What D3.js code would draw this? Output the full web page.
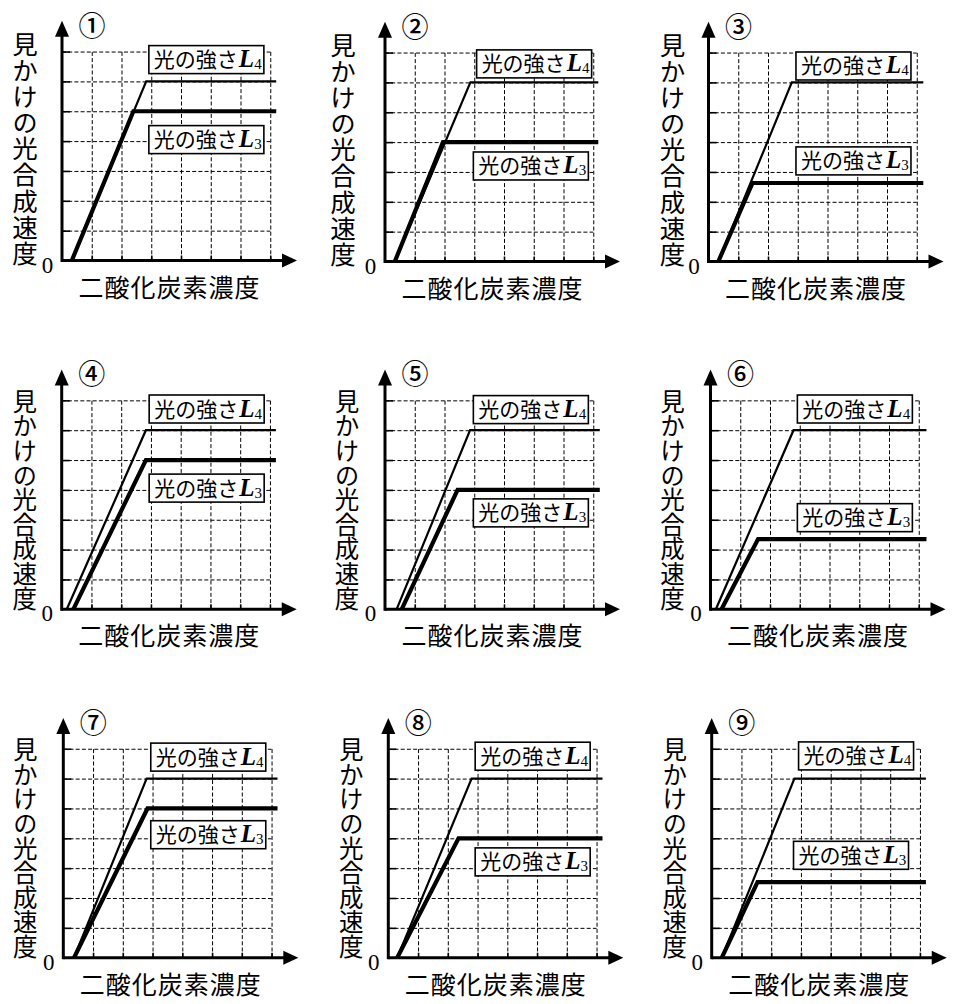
<!DOCTYPE html>
<html>
<head>
<meta charset="utf-8">
<script src="https://cdn.jsdelivr.net/npm/d3@7"></script>
<style>
html,body{margin:0;padding:0;background:#fff;}
svg{display:block;}
</style>
</head>
<body>
<svg id="chart" width="958" height="1004"></svg>
<script>
// ---------- data ----------
const panelIds = ["①","②","③","④","⑤","⑥","⑦","⑧","⑨"];
const yAxisTitle = "見かけの光合成速度";
const xAxisTitle = "二酸化炭素濃度";
const zeroLabel = "0";
const labelText = "光の強さ";
const labelL4Sub = "4";
const labelL3Sub = "3";
const gridTicks = [1,2,3,4,5,6,7];

// series: [co2, rate] points (grid units)
const seriesL4 = [
  [[0.33,0],[2.83,6],[7.2,6]],
  [[0.33,0],[2.87,6],[7.17,6]],
  [[0.33,0],[2.80,6],[7.22,6]],
  [[0.17,0],[2.83,6],[7.2,6]],
  [[0.39,0],[2.86,6],[7.22,6]],
  [[0.18,0],[2.79,6],[7.26,6]],
  [[0.36,0],[2.80,6],[7.2,6]],
  [[0.30,0],[2.80,6],[7.2,6]],
  [[0.34,0],[2.78,6],[7.2,6]]
];
const seriesL3 = [
  [[0.33,0],[2.40,5],[7.2,5]],
  [[0.33,0],[1.95,4],[7.17,4]],
  [[0.33,0],[1.48,2.63],[7.22,2.63]],
  [[0.39,0],[2.83,5],[7.2,5]],
  [[0.56,0],[2.44,4],[7.22,4]],
  [[0.37,0],[1.60,2.35],[7.26,2.35]],
  [[0.36,0],[2.83,5],[7.2,5]],
  [[0.30,0],[2.36,4],[7.2,4]],
  [[0.34,0],[1.54,2.53],[7.2,2.53]]
];
// label anchors: [left x, centre y] in grid units
const labelAnchorL4 = [[2.92,6.73],[3.08,6.62],[2.94,6.55],[2.94,6.71],[2.97,6.69],[2.92,6.71],[2.94,6.72],[2.92,6.75],[2.92,6.76]];
const labelAnchorL3 = [[2.92,4.05],[2.97,3.20],[2.94,3.37],[2.94,4.06],[2.97,3.23],[2.92,3.07],[2.94,4.12],[2.92,3.21],[2.75,3.43]];

// ---------- layout ----------
const origins = [[62,260.5],[385,261.5],[708.5,261.5],[61.7,609.3],[385,609.3],[710.5,609.3],[63.3,957.7],[388.3,957.7],[711.7,957.7]];
const yTitleOffset = [-37,-42,-36,-37,-38,-38,-38,-37,-37];
const ux = 29.75, uy = 29.85;
const CJK = "'Noto Sans CJK JP','Noto Sans',sans-serif";
const SERIF = "'Liberation Serif','DejaVu Serif',serif";

const svg = d3.select("#chart");

panelIds.forEach((pid, i) => {
  const [ox, oy] = origins[i];
  const row = Math.floor(i/3);
  const x = d3.scaleLinear().domain([0,7]).range([ox, ox + 7*ux]);
  const y = d3.scaleLinear().domain([0,7]).range([oy, oy - 7*uy]);
  const g = svg.append("g");

  // grid (dashed)
  const gridX = g.append("g").attr("transform",`translate(0,${y(0)})`)
    .call(d3.axisBottom(x).tickValues(gridTicks).tickSize(-(y(0)-y(7))).tickFormat(""));
  const gridY = g.append("g").attr("transform",`translate(${x(0)},0)`)
    .call(d3.axisLeft(y).tickValues(gridTicks).tickSize(-(x(7)-x(0))).tickFormat(""));
  [gridX, gridY].forEach(a => {
    a.select(".domain").remove();
    a.selectAll("line").attr("stroke","#000").attr("stroke-width",1).attr("stroke-dasharray","4,2.2");
  });

  // small solid ticks
  const tX = g.append("g").attr("transform",`translate(0,${y(0)})`)
    .call(d3.axisBottom(x).tickValues(gridTicks).tickSize(-5).tickFormat(""));
  const tY = g.append("g").attr("transform",`translate(${x(0)},0)`)
    .call(d3.axisLeft(y).tickValues(gridTicks).tickSize(-8).tickFormat(""));
  [tX, tY].forEach(a => {
    a.select(".domain").remove();
    a.selectAll("line").attr("stroke","#000").attr("stroke-width",1.6);
  });

  // axes with arrows
  const xTip = x(7.9), yTip = y(8.03);
  g.append("line").attr("x1",x(0)).attr("y1",y(0)).attr("x2",xTip-12).attr("y2",y(0))
    .attr("stroke","#000").attr("stroke-width",3);
  g.append("line").attr("x1",x(0)).attr("y1",y(0)+1.5).attr("x2",x(0)).attr("y2",yTip+12)
    .attr("stroke","#000").attr("stroke-width",3);
  g.append("path").attr("d",`M${xTip},${y(0)} L${xTip-15},${y(0)-7} L${xTip-15},${y(0)+7} Z`).attr("fill","#000");
  g.append("path").attr("d",`M${x(0)},${yTip} L${x(0)-7},${yTip+16} L${x(0)+7},${yTip+16} Z`).attr("fill","#000");

  // lines
  const line = d3.line().x(d => x(d[0])).y(d => y(d[1]));
  g.append("path").datum(seriesL3[i]).attr("d",line).attr("fill","none")
    .attr("stroke","#000").attr("stroke-width",4.2).attr("stroke-linejoin","miter");
  g.append("path").datum(seriesL4[i]).attr("d",line).attr("fill","none")
    .attr("stroke","#000").attr("stroke-width",2.2).attr("stroke-linejoin","miter");

  // labels
  const drawLabel = (anchor, sub) => {
    const bx = x(anchor[0]), cy = y(anchor[1]);
    const bw = 115, bh = 28;
    g.append("rect").attr("x",bx).attr("y",cy-bh/2).attr("width",bw).attr("height",bh)
      .attr("fill","#fff").attr("stroke","#000").attr("stroke-width",1.6);
    const t = g.append("text").attr("x",bx+5).attr("y",cy+7.5).attr("fill","#000");
    t.append("tspan").attr("font-family",CJK).attr("font-size",21).text(labelText);
    t.append("tspan").attr("font-family",SERIF).attr("font-style","italic").attr("font-weight","bold")
      .attr("font-size",25).attr("dx",1).text("L");
    t.append("tspan").attr("font-family",SERIF).attr("font-size",15).attr("dy",2).text(sub);
  };
  drawLabel(labelAnchorL4[i], labelL4Sub);
  drawLabel(labelAnchorL3[i], labelL3Sub);

  // panel id
  g.append("text").attr("x",x(0)+30).attr("y",y(0)-236.5).attr("text-anchor","middle")
    .attr("dominant-baseline","central").attr("font-family",CJK).attr("font-weight",500)
    .attr("font-size",27).attr("fill","#000").text(pid);

  // zero
  g.append("text").attr("x",x(0)-14.5).attr("y",y(0)+12).attr("text-anchor","middle")
    .attr("font-family",SERIF).attr("font-size",23).attr("fill","#000").text(zeroLabel);

  // y title (vertical)
  const pitch = row === 0 ? 26.1 : 24.6;
  const top = row === 0 ? 229 : 220;
  const fs = row === 0 ? 25.5 : 24.5;
  g.append("text")
    .attr("x", x(0) + yTitleOffset[i])
    .attr("y", y(0) - top)
    .attr("font-family",CJK).attr("font-size",fs).attr("fill","#000")
    .attr("letter-spacing", pitch - fs)
    .style("writing-mode","vertical-rl").style("text-orientation","upright")
    .text(yAxisTitle);

  // x title
  g.append("text").attr("x",x(0)+107.5).attr("y",y(0)+25).attr("text-anchor","middle")
    .attr("dominant-baseline","central").attr("font-family",CJK)
    .attr("font-size",25).attr("letter-spacing",1).attr("fill","#000").text(xAxisTitle);
});
</script>
</body>
</html>
